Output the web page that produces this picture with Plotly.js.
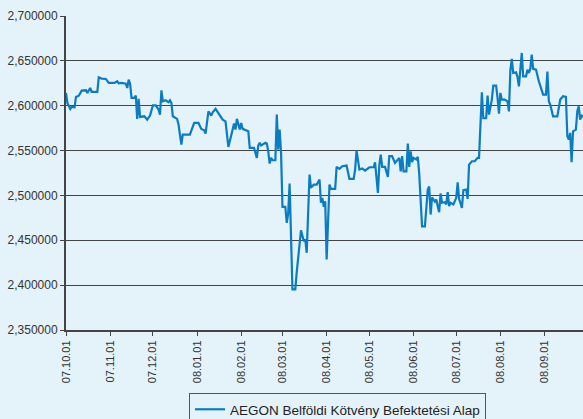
<!DOCTYPE html>
<html>
<head>
<meta charset="utf-8">
<script src="https://cdn.plot.ly/plotly-3.0.1.min.js"></script>
<style>
html,body{margin:0;padding:0;background:#e4f2f9;}
#chart{width:583px;height:419px;}
</style>
</head>
<body>
<div id="chart"></div>
<script>
var seriesName = "AEGON Belföldi Kötvény Befektetési Alap";

var dates = [
"2007-10-01","2007-10-02","2007-10-04","2007-10-05","2007-10-07","2007-10-08","2007-10-10","2007-10-12","2007-10-15","2007-10-16",
"2007-10-18","2007-10-19","2007-10-23","2007-10-24","2007-10-26","2007-10-29","2007-10-31","2007-11-04","2007-11-06","2007-11-07",
"2007-11-09","2007-11-11","2007-11-12","2007-11-13","2007-11-14","2007-11-15","2007-11-16","2007-11-18","2007-11-19","2007-11-20",
"2007-11-21","2007-11-22","2007-11-24","2007-11-25","2007-11-27","2007-11-29","2007-12-01","2007-12-03","2007-12-05","2007-12-06",
"2007-12-07","2007-12-08","2007-12-10","2007-12-12","2007-12-13","2007-12-14","2007-12-15","2007-12-18","2007-12-19","2007-12-21",
"2007-12-22","2007-12-27","2007-12-30","2008-01-02","2008-01-04","2008-01-06","2008-01-07","2008-01-09","2008-01-11","2008-01-12",
"2008-01-14","2008-01-16","2008-01-19","2008-01-21","2008-01-22","2008-01-23","2008-01-25","2008-01-27","2008-01-28","2008-01-29",
"2008-01-31","2008-02-01","2008-02-02","2008-02-04","2008-02-06","2008-02-07","2008-02-10","2008-02-12","2008-02-13","2008-02-14",
"2008-02-15","2008-02-18","2008-02-19","2008-02-20","2008-02-21","2008-02-22","2008-02-23","2008-02-25","2008-02-26","2008-02-27",
"2008-02-28","2008-02-29","2008-03-01","2008-03-03","2008-03-04","2008-03-05","2008-03-06","2008-03-08","2008-03-10","2008-03-11",
"2008-03-14","2008-03-16","2008-03-17","2008-03-18","2008-03-20","2008-03-21","2008-03-23","2008-03-25","2008-03-27","2008-03-28",
"2008-03-29","2008-03-30","2008-03-31","2008-04-01","2008-04-03","2008-04-04","2008-04-07","2008-04-08","2008-04-10","2008-04-12",
"2008-04-15","2008-04-17","2008-04-20","2008-04-21","2008-04-22","2008-04-24","2008-04-26","2008-04-28","2008-05-01","2008-05-04",
"2008-05-05","2008-05-07","2008-05-08","2008-05-09","2008-05-10","2008-05-12","2008-05-14","2008-05-15","2008-05-17","2008-05-19",
"2008-05-20","2008-05-22","2008-05-23","2008-05-24","2008-05-25","2008-05-27","2008-05-28","2008-05-29","2008-05-30","2008-05-31",
"2008-06-01","2008-06-03","2008-06-04","2008-06-05","2008-06-07","2008-06-09","2008-06-11","2008-06-12","2008-06-13","2008-06-14",
"2008-06-16","2008-06-17","2008-06-18","2008-06-19","2008-06-20","2008-06-21","2008-06-23","2008-06-24","2008-06-25","2008-06-26",
"2008-06-27","2008-06-29","2008-07-01","2008-07-02","2008-07-03","2008-07-05","2008-07-06","2008-07-08","2008-07-09","2008-07-10",
"2008-07-12","2008-07-14","2008-07-16","2008-07-17","2008-07-19","2008-07-20","2008-07-22","2008-07-23","2008-07-24","2008-07-26",
"2008-07-27","2008-07-29","2008-07-30","2008-07-31","2008-08-01","2008-08-02","2008-08-04","2008-08-06","2008-08-07","2008-08-08",
"2008-08-09","2008-08-10","2008-08-12","2008-08-13","2008-08-14","2008-08-15","2008-08-16","2008-08-17","2008-08-19","2008-08-20",
"2008-08-21","2008-08-22","2008-08-23","2008-08-24","2008-08-26","2008-08-28","2008-08-29","2008-08-31","2008-09-02","2008-09-03",
"2008-09-04","2008-09-05","2008-09-07","2008-09-10","2008-09-12","2008-09-14","2008-09-16","2008-09-17","2008-09-18","2008-09-19",
"2008-09-20","2008-09-21","2008-09-23","2008-09-24","2008-09-25","2008-09-26","2008-09-27","2008-09-29"
];

var prices = [
2.6143,2.6031,2.5964,2.5987,2.5982,2.6098,2.6112,2.6168,2.6172,2.6143,
2.6198,2.6154,2.6154,2.6316,2.6302,2.6298,2.6254,2.6254,2.6272,2.6249,
2.6254,2.6243,2.6246,2.6198,2.6291,2.6246,2.6087,2.6087,2.6112,2.5853,
2.6076,2.5875,2.5875,2.5882,2.5845,2.5890,2.6004,2.6004,2.5957,2.5901,
2.6172,2.6049,2.6060,2.6038,2.6060,2.6031,2.5882,2.5853,2.5790,2.5567,
2.5678,2.5678,2.5808,2.5808,2.5742,2.5726,2.5689,2.5938,2.5890,2.5927,
2.5964,2.5920,2.5845,2.5826,2.5697,2.5541,2.5667,2.5801,2.5734,2.5853,
2.5734,2.5808,2.5742,2.5726,2.5715,2.5530,2.5530,2.5419,2.5556,2.5586,
2.5556,2.5586,2.5578,2.5492,2.5355,2.5419,2.5392,2.5392,2.5901,2.5511,
2.5734,2.5474,2.4873,2.4873,2.4695,2.4798,2.5133,2.3952,2.3952,2.4145,
2.4612,2.4490,2.4509,2.4361,2.5233,2.5085,2.5121,2.5121,2.5177,2.4918,
2.4973,2.4873,2.4935,2.4286,2.5121,2.5074,2.5074,2.5318,2.5296,2.5325,
2.5333,2.5185,2.5185,2.5288,2.5503,2.5288,2.5300,2.5277,2.5314,2.5314,
2.5370,2.5029,2.5340,2.5455,2.5318,2.5318,2.5207,2.5437,2.5437,2.5363,
2.5381,2.5419,2.5269,2.5437,2.5269,2.5269,2.5578,2.5318,2.5492,2.5370,
2.5419,2.5400,2.5430,2.5243,2.4654,2.4654,2.5066,2.5099,2.4787,2.4977,
2.4932,2.4954,2.4880,2.4813,2.5021,2.4918,2.4924,2.4899,2.5036,2.4880,
2.4918,2.4899,2.4973,2.5147,2.4962,2.4862,2.5058,2.5066,2.4962,2.5344,
2.5381,2.5381,2.5419,2.5419,2.6149,2.5860,2.5860,2.6113,2.5901,2.6068,
2.6224,2.6224,2.6087,2.5912,2.6143,2.6068,2.6068,2.6049,2.5937,2.6394,
2.6521,2.6365,2.6372,2.6321,2.6216,2.6439,2.6588,2.6327,2.6327,2.6402,
2.6365,2.6410,2.6569,2.6410,2.6402,2.6272,2.6224,2.6124,2.6124,2.6380,
2.6049,2.6012,2.5882,2.5882,2.6068,2.6105,2.6098,2.5659,2.5623,2.5697,
2.5370,2.5715,2.5734,2.5938,2.5993,2.5845,2.5890,2.5870
];

var trace = {
  x: dates,
  y: prices,
  type: "scatter",
  mode: "lines",
  name: seriesName,
  line: {color: "#0a7cc2", width: 2.2},
  showlegend: true
};

var layout = {
  width: 583,
  height: 419,
  paper_bgcolor: "#e4f2f9",
  plot_bgcolor: "#e4f2f9",
  separators: ", ",
  margin: {l: 66, r: 0, t: 16, b: 89, pad: 0},
  font: {family: "Liberation Sans, Arial, sans-serif", size: 12, color: "#333"},
  xaxis: {
    type: "date",
    range: ["2007-10-01", "2008-09-28"],
    tick0: "2007-10-01",
    dtick: "M1",
    tickformat: "%y.%m.%d",
    tickangle: -90,
    ticks: "outside",
    ticklen: 4,
    tickcolor: "#444",
    tickfont: {size: 11, color: "#333"},
    showgrid: false,
    showline: true,
    linecolor: "#444",
    linewidth: 2,
    zeroline: false,
    automargin: false,
    fixedrange: true
  },
  yaxis: {
    range: [2.35, 2.70],
    dtick: 0.05,
    tick0: 2.35,
    tickformat: ".6f",
    ticks: "outside",
    ticklen: 4,
    tickcolor: "#444",
    tickfont: {size: 12, color: "#333"},
    showgrid: true,
    gridcolor: "#444",
    gridwidth: 1.2,
    showline: true,
    linecolor: "#444",
    linewidth: 2,
    zeroline: false,
    automargin: false,
    fixedrange: true
  },
  showlegend: true,
  legend: {
    orientation: "h",
    xref: "container",
    yref: "container",
    x: 189 / 583,
    xanchor: "left",
    y: (419 - 393) / 419,
    yanchor: "top",
    bgcolor: "#e4f2f9",
    bordercolor: "#555",
    borderwidth: 1,
    font: {size: 13.5, color: "#222"}
  }
};

Plotly.newPlot("chart", [trace], layout, {staticPlot: true, displayModeBar: false});
</script>
</body>
</html>
